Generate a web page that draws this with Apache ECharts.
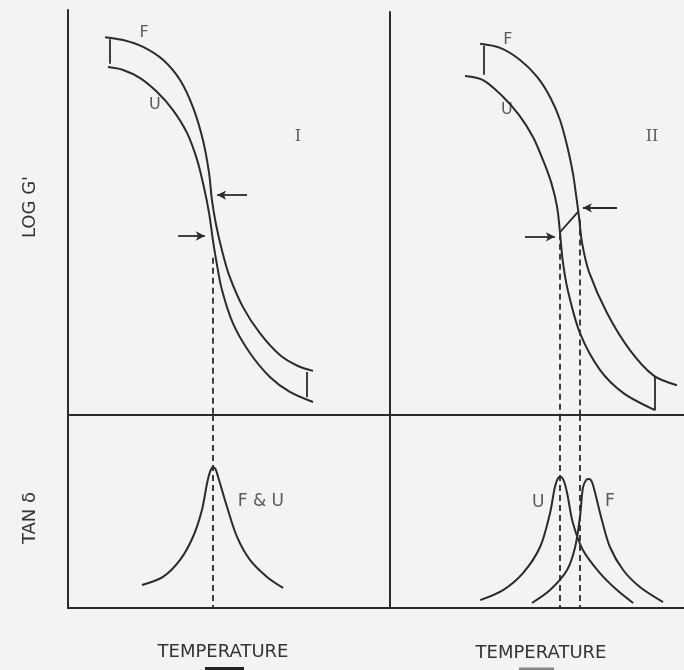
<!DOCTYPE html>
<html>
<head>
<meta charset="utf-8">
<script src="https://cdn.jsdelivr.net/npm/echarts@6/dist/echarts.min.js"></script>
<style>html,body{margin:0;padding:0;background:#f3f3f1}#c{width:684px;height:670px}</style>
</head>
<body>
<div id="c"></div>
<script>
// ---- data (temperature 0-100, log G' 0-100, tan delta 0-100; schematic units) ----
// Panel I (upper): log G' vs temperature
const panelI_F = [[11.5,93.3],[17.1,92.6],[23.3,90.9],[29.5,87.7],[34.8,82.7],[38.8,76.0],[41.9,67.9],[43.8,59.8],[44.7,53.1],[46.0,46.9],[47.8,40.7],[50.0,34.6],[54.3,26.7],[59.6,20.2],[65.8,14.8],[71.4,12.1],[76.1,10.9]];
const panelI_U = [[12.4,85.9],[17.1,85.2],[22.4,83.2],[27.6,79.8],[32.6,75.3],[37.0,69.6],[40.1,63.0],[42.2,56.3],[43.8,49.9],[45.0,43.2],[46.0,38.3],[47.8,30.9],[51.2,22.7],[56.5,15.3],[62.7,9.4],[68.9,5.7],[76.1,3.2]];
// Panel II (upper)
const panelII_F = [[28.0,92.1],[34.2,91.1],[40.4,88.1],[45.7,83.9],[49.7,78.9],[52.8,73.2],[55.1,66.5],[56.8,60.0],[58.0,53.3],[58.7,49.1],[59.6,42.9],[61.8,35.5],[67.4,25.3],[74.5,16.1],[82.0,9.7],[89.1,7.4]];
const panelII_U = [[23.3,84.1],[28.9,83.1],[34.8,79.2],[40.1,74.4],[44.4,69.0],[47.5,63.3],[50.1,57.6],[51.9,51.6],[52.8,45.2],[53.6,38.5],[55.2,31.0],[59.0,20.3],[65.2,11.2],[72.4,5.5],[82.3,1.2]];
// Panel I (lower): tan delta, F & U coincide
const panelI_tan = [[23.0,11.9],[29.5,16.1],[34.8,24.9],[38.8,36.8],[41.6,50.8],[43.2,64.8],[44.1,70.5],[45.0,73.1],[45.8,72.0],[46.9,66.3],[49.4,52.3],[52.5,36.8],[56.5,24.9],[61.8,16.1],[66.8,10.4]];
// Panel II (lower)
const panelII_tanU = [[28.0,4.1],[35.1,9.3],[41.3,18.1],[46.6,31.6],[49.7,49.2],[51.2,62.7],[52.2,67.4],[53.1,67.9],[54.0,65.8],[55.0,59.6],[56.8,44.0],[59.9,30.1],[65.2,18.1],[70.5,9.3],[75.5,2.6]];
const panelII_tanF = [[44.1,2.6],[49.7,9.3],[55.0,19.7],[57.5,31.6],[59.0,47.2],[59.9,62.2],[60.9,66.3],[61.8,66.8],[62.7,65.3],[63.7,59.6],[65.8,45.6],[68.3,31.6],[72.4,19.7],[77.6,10.9],[84.8,3.1]];
// Tg positions (dashed guides)
const tgI = 45.0;
const tgII_U = 52.8;
const tgII_F = 59.0;
// gap bars between F and U: [x, yTop, yBottom]
const barsI = [[13.0,92.8,86.7],[74.2,10.6,4.4]];
const barsII = [[29.2,91.6,84.4],[82.3,9.4,1.2]];
// arrows: [xTail, xTip, y]
const arrowsI = [[55.6,46.3,54.3],[34.2,42.5,44.2]];
const arrowsII = [[70.5,59.9,51.4],[41.9,51.2,44.2]];
const linkII = [[52.8,45.4],[58.4,50.4]];
// curve labels: [x, y, text]
const labelsIup = [[23.6,94.3,'F'],[27.0,76.5,'U']];
const labelsIIup = [[36.6,93.1,'F'],[36.3,75.7,'U']];
const labelsIlow = [[59.9,54.9,'F & U']];
const labelsIIlow = [[46.0,54.4,'U'],[68.3,54.9,'F']];
const romanLabels = [[[71.4,68.6,'I']],[[81.4,69.0,'II']]];
// visible temperature span of panel II (its right edge is cut by the page)
const panelIIxMax = 91.3;

const INK = '#2b2b2b';
const TXT = '#333';
const FONT = 'DejaVu Sans';

const grids = [
  {left:68, top:10, width:322, height:405},
  {left:390, top:12, right:0, height:403},
  {left:68, top:415, width:322, height:193},
  {left:390, top:415, right:0, height:193}
];
const axisBase = {type:'value', min:0, axisTick:{show:false}, axisLabel:{show:false}, splitLine:{show:false},
  axisLine:{show:true, lineStyle:{color:INK, width:2}}};
const xMax = [100, panelIIxMax, 100, panelIIxMax];
const xAxes = grids.map((g,i)=>Object.assign({gridIndex:i, max:xMax[i]}, axisBase));
const yAxes = grids.map((g,i)=>Object.assign({gridIndex:i, max:100}, axisBase));

const series = [];
function curve(data, gi){
  series.push({type:'line', xAxisIndex:gi, yAxisIndex:gi, data:data, smooth:0.3, symbol:'none',
    lineStyle:{color:INK, width:2}, silent:true, animation:false});
}
function segs(lines, gi, arrow, dashed){
  series.push({type:'line', xAxisIndex:gi, yAxisIndex:gi, data:[], silent:true, animation:false,
    markLine:{silent:true, animation:false, symbol: arrow?['none','arrow']:['none','none'], symbolSize:[7,9],
      label:{show:false}, emphasis:{disabled:true},
      lineStyle:{color:INK, width:1.8, type: dashed?[6,4]:'solid'},
      data: lines.map(l=>[{coord:l[0]},{coord:l[1]}])}});
}
function labels(items, gi, size, family){
  series.push({type:'scatter', xAxisIndex:gi, yAxisIndex:gi, data:items, symbolSize:1, silent:true, animation:false,
    itemStyle:{color:'rgba(0,0,0,0)'},
    label:{show:true, position:'inside', formatter:p=>p.value[2], color:TXT, fontSize:size, fontFamily:family||FONT}});
}

curve(panelI_F,0); curve(panelI_U,0);
curve(panelII_F,1); curve(panelII_U,1);
curve(panelI_tan,2);
curve(panelII_tanU,3); curve(panelII_tanF,3);

segs(barsI.map(b=>[[b[0],b[1]],[b[0],b[2]]]),0,false,false);
segs(barsII.map(b=>[[b[0],b[1]],[b[0],b[2]]]),1,false,false);
segs([linkII],1,false,false);
segs(arrowsI.map(a=>[[a[0],a[2]],[a[1],a[2]]]),0,true,false);
segs(arrowsII.map(a=>[[a[0],a[2]],[a[1],a[2]]]),1,true,false);
segs([[[tgI,38.8],[tgI,0]]],0,false,true);
segs([[[tgII_U,45.0],[tgII_U,0]],[[tgII_F,48.5],[tgII_F,0]]],1,false,true);
segs([[[tgI,100],[tgI,0]]],2,false,true);
segs([[[tgII_U,100],[tgII_U,0]],[[tgII_F,100],[tgII_F,0]]],3,false,true);

labels(labelsIup,0,16); labels(labelsIIup,1,16);
labels(labelsIlow,2,17); labels(labelsIIlow,3,17);
labels(romanLabels[0],0,16,'DejaVu Serif'); labels(romanLabels[1],1,16,'DejaVu Serif');

const chart = echarts.init(document.getElementById('c'), null, {renderer:'canvas'});
chart.setOption({
  backgroundColor:'#f3f3f1',
  animation:false,
  grid:grids,
  xAxis:xAxes,
  yAxis:yAxes,
  series:series,
  graphic:[
    {type:'text', x:30, y:207, rotation:Math.PI/2, style:{text:"LOG G'", fontSize:18, fontFamily:FONT, fill:TXT, align:'center', verticalAlign:'middle'}},
    {type:'text', x:30, y:518, rotation:Math.PI/2, style:{text:'TAN δ', fontSize:18, fontFamily:FONT, fill:TXT, align:'center', verticalAlign:'middle'}},
    {type:'text', x:223, y:652, style:{text:'TEMPERATURE', fontSize:18, fontFamily:FONT, fill:TXT, align:'center', verticalAlign:'middle'}},
    {type:'text', x:541, y:653, style:{text:'TEMPERATURE', fontSize:18, fontFamily:FONT, fill:TXT, align:'center', verticalAlign:'middle'}},
    {type:'line', shape:{x1:205,y1:669,x2:244,y2:669}, style:{stroke:'#222', lineWidth:4}},
    {type:'line', shape:{x1:519,y1:669,x2:554,y2:669}, style:{stroke:'#888', lineWidth:3}}
  ]
});
</script>
</body>
</html>
